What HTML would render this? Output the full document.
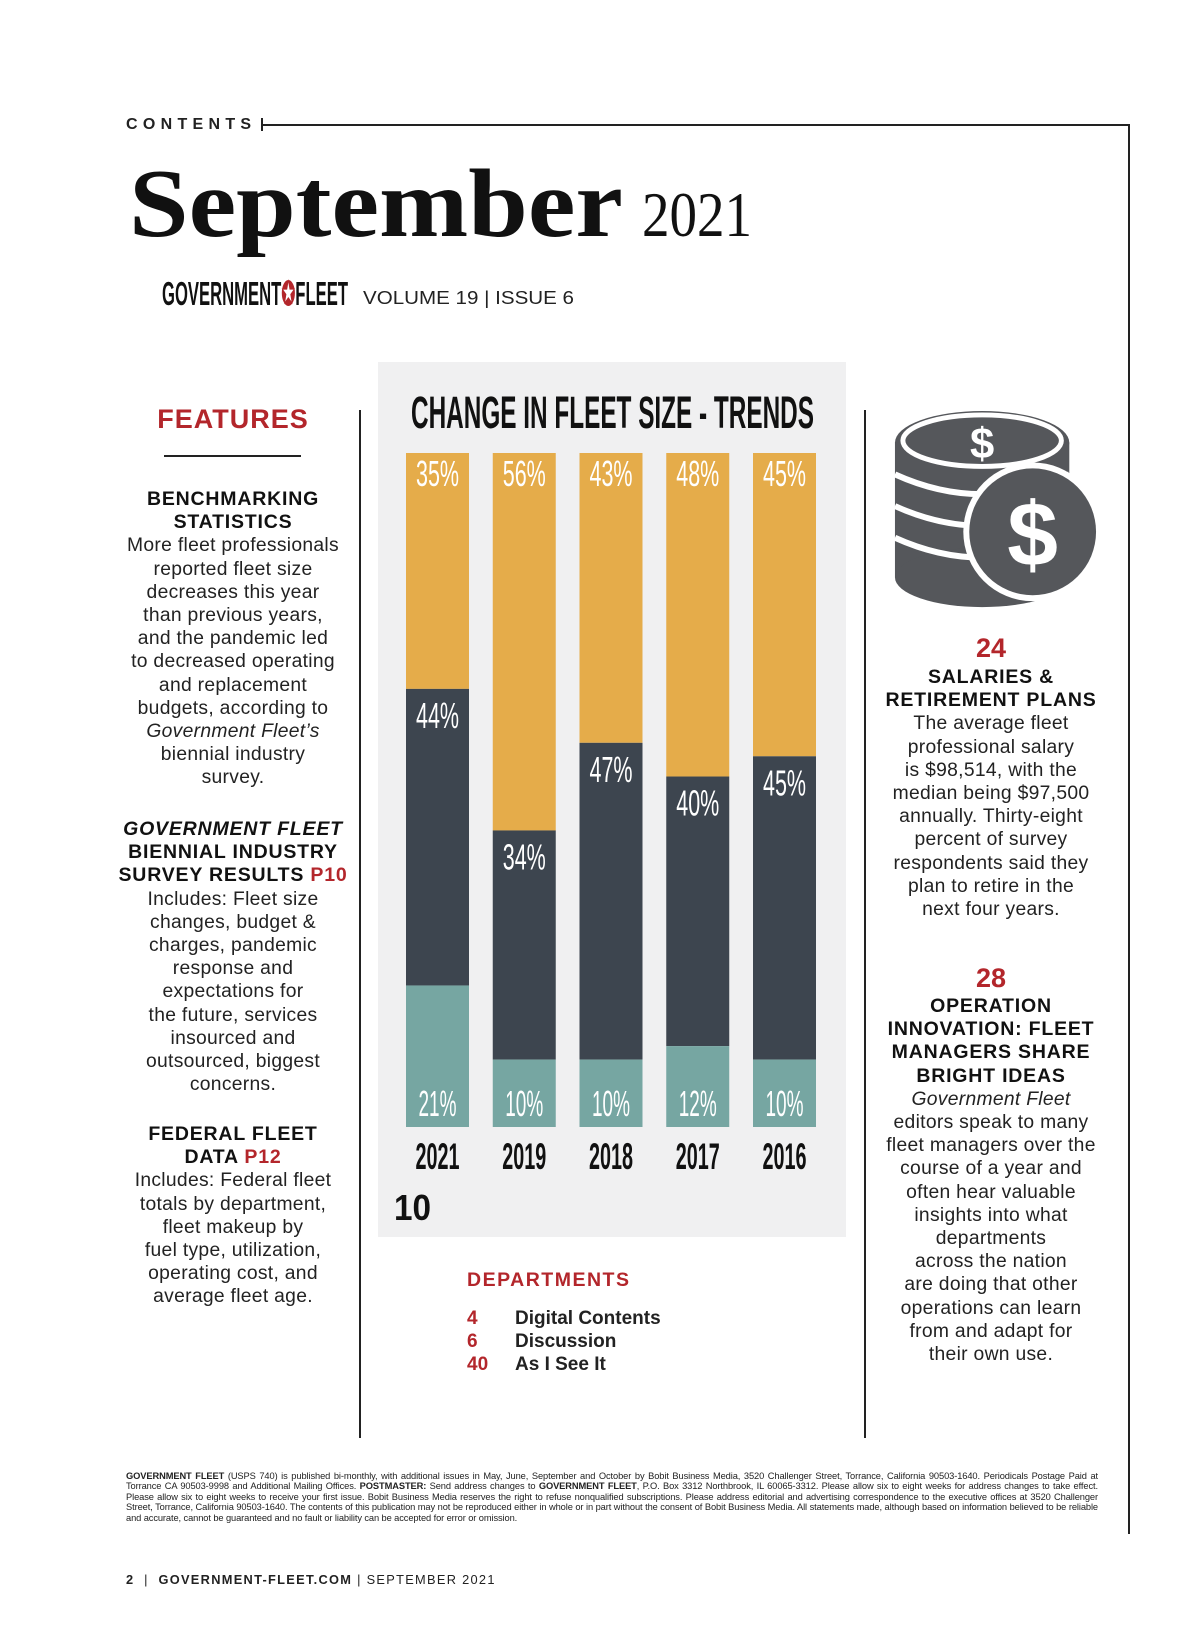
<!DOCTYPE html>
<html><head><meta charset="utf-8"><style>
body{margin:0;background:#fff;}
#page{position:relative;width:1200px;height:1638px;overflow:hidden;background:#fff;font-family:"Liberation Sans",sans-serif;color:#222;}
.abs{position:absolute;}
.col{position:absolute;text-align:center;font-size:19.3px;line-height:23.2px;color:#222;letter-spacing:0.3px;}
.col b{font-size:19.5px;letter-spacing:0.8px;color:#111;}
.red{color:#b3262b;}
</style></head><body>
<div id="page">
<div class="abs" style="left:126px;top:116px;font-size:16px;font-weight:bold;letter-spacing:5.3px;">CONTENTS</div>
<div class="abs" style="left:262px;top:124px;width:867px;height:1.5px;background:#222;"></div>
<div class="abs" style="left:261px;top:118px;width:1.5px;height:13px;background:#222;"></div>
<div class="abs" style="left:1128px;top:124px;width:1.5px;height:1410px;background:#222;"></div>

<svg class="abs" style="left:0;top:0;" width="1200" height="330">
<text x="129" y="236" font-family="Liberation Serif, serif" font-weight="bold" font-size="98" fill="#111" textLength="494" lengthAdjust="spacingAndGlyphs">September</text>
<text x="642" y="236" font-family="Liberation Serif, serif" font-size="64" fill="#111" textLength="110" lengthAdjust="spacingAndGlyphs">2021</text>
<text x="162" y="305" font-family="Liberation Sans Narrow, Liberation Sans, sans-serif" font-weight="bold" font-size="33" fill="#111" textLength="186" lengthAdjust="spacingAndGlyphs">GOVERNMENT<tspan fill="#b3262b">✪</tspan>FLEET</text>
<text x="363" y="304" font-family="Liberation Sans, sans-serif" font-size="18.5" fill="#222" textLength="211" lengthAdjust="spacingAndGlyphs">VOLUME 19 | ISSUE 6</text>
</svg>

<div class="abs red" style="left:133px;top:404px;width:200px;text-align:center;font-size:27px;font-weight:bold;letter-spacing:1px;">FEATURES</div>
<div class="abs" style="left:164px;top:455px;width:137px;height:1.5px;background:#222;"></div>

<div class="col" style="left:113px;width:240px;top:488px;">
<b>BENCHMARKING<br>STATISTICS</b><br>More fleet professionals<br>reported fleet size<br>decreases this year<br>than previous years,<br>and the pandemic led<br>to decreased operating<br>and replacement<br>budgets, according to<br><i>Government Fleet’s</i><br>biennial industry<br>survey.</div>
<div class="col" style="left:113px;width:240px;top:818px;">
<b><i>GOVERNMENT FLEET</i><br>BIENNIAL INDUSTRY<br>SURVEY RESULTS <span class="red">P10</span></b><br>Includes: Fleet size<br>changes, budget &amp;<br>charges, pandemic<br>response and<br>expectations for<br>the future, services<br>insourced and<br>outsourced, biggest<br>concerns.</div>
<div class="col" style="left:113px;width:240px;top:1123px;">
<b>FEDERAL FLEET<br>DATA <span class="red">P12</span></b><br>Includes: Federal fleet<br>totals by department,<br>fleet makeup by<br>fuel type, utilization,<br>operating cost, and<br>average fleet age.</div>

<div class="abs" style="left:359px;top:410px;width:1.5px;height:1028px;background:#222;"></div>
<div class="abs" style="left:864px;top:410px;width:1.5px;height:1028px;background:#222;"></div>

<svg class="abs" id="chart" style="left:378px;top:362px;" width="468" height="875" viewBox="378 362 468 875">
<rect x="378" y="362" width="468" height="875" fill="#f0f0f1"/>
<text x="411" y="428" font-family="Liberation Sans Narrow, Liberation Sans, sans-serif" font-weight="bold" font-size="45" fill="#111" textLength="403" lengthAdjust="spacingAndGlyphs">CHANGE IN FLEET SIZE -  TRENDS</text>
<text x="394" y="1220" font-family="Liberation Sans, sans-serif" font-weight="bold" font-size="36" fill="#111" textLength="37" lengthAdjust="spacingAndGlyphs">10</text>
</svg>

<svg class="abs" style="left:891px;top:407px;" width="210" height="210" viewBox="0 0 212 212">
<g fill="#55575b">
<ellipse cx="92" cy="36" rx="88" ry="32"/>
<rect x="4" y="36" width="176" height="136"/>
<ellipse cx="92" cy="172" rx="88" ry="30"/>
</g>
<g stroke="#fff" stroke-width="6" fill="none">
<path d="M4 68 Q92 108 180 68"/><path d="M4 100 Q92 140 180 100"/><path d="M4 132 Q92 172 180 132"/>
</g>
<ellipse cx="92" cy="34" rx="80" ry="26" fill="#55575b" stroke="#fff" stroke-width="5"/>
<text x="92" y="52" text-anchor="middle" font-family="Liberation Sans, sans-serif" font-weight="bold" font-size="44" fill="#fff">$</text>
<circle cx="143" cy="126" r="70" fill="#fff"/>
<circle cx="143" cy="126" r="64" fill="#55575b"/>
<text x="143" y="160" text-anchor="middle" font-family="Liberation Sans, sans-serif" font-weight="bold" font-size="92" fill="#fff">$</text>
</svg>

<div class="abs red" style="left:891px;width:200px;top:633px;text-align:center;font-size:27px;font-weight:bold;">24</div>
<div class="col" style="left:871px;width:240px;top:666px;">
<b>SALARIES &amp;<br>RETIREMENT PLANS</b><br>The average fleet<br>professional salary<br>is $98,514, with the<br>median being $97,500<br>annually. Thirty-eight<br>percent of survey<br>respondents said they<br>plan to retire in the<br>next four years.</div>
<div class="abs red" style="left:891px;width:200px;top:963px;text-align:center;font-size:27px;font-weight:bold;">28</div>
<div class="col" style="left:871px;width:240px;top:995px;">
<b>OPERATION<br>INNOVATION: FLEET<br>MANAGERS SHARE<br>BRIGHT IDEAS</b><br><i>Government Fleet</i><br>editors speak to many<br>fleet managers over the<br>course of a year and<br>often hear valuable<br>insights into what<br>departments<br>across the nation<br>are doing that other<br>operations can learn<br>from and adapt for<br>their own use.</div>

<div class="abs red" style="left:467px;top:1269px;font-size:19.5px;font-weight:bold;letter-spacing:1.5px;">DEPARTMENTS</div>
<div class="abs" style="left:467px;top:1307px;font-size:19px;line-height:23px;font-weight:bold;">
<div><span class="red" style="display:inline-block;width:48px;">4</span>Digital Contents</div>
<div><span class="red" style="display:inline-block;width:48px;">6</span>Discussion</div>
<div><span class="red" style="display:inline-block;width:48px;">40</span>As I See It</div>
</div>

<div class="abs" style="left:126px;top:1471px;width:972px;font-size:9.3px;line-height:10.4px;text-align:justify;color:#222;letter-spacing:-0.1px;"><b>GOVERNMENT FLEET</b> (USPS 740) is published bi-monthly, with additional issues in May, June, September and October by Bobit Business Media, 3520 Challenger Street, Torrance, California 90503-1640. Periodicals Postage Paid at Torrance CA 90503-9998 and Additional Mailing Offices. <b>POSTMASTER:</b> Send address changes to <b>GOVERNMENT FLEET</b>, P.O. Box 3312 Northbrook, IL 60065-3312. Please allow six to eight weeks for address changes to take effect. Please allow six to eight weeks to receive your first issue. Bobit Business Media reserves the right to refuse nonqualified subscriptions. Please address editorial and advertising correspondence to the executive offices at 3520 Challenger Street, Torrance, California 90503-1640. The contents of this publication may not be reproduced either in whole or in part without the consent of Bobit Business Media. All statements made, although based on information believed to be reliable and accurate, cannot be guaranteed and no fault or liability can be accepted for error or omission.</div>

<div class="abs" style="left:126px;top:1572px;font-size:12.8px;letter-spacing:1.3px;"><b>2</b> &nbsp;| &nbsp;<b>GOVERNMENT-FLEET.COM</b> | SEPTEMBER 2021</div>
</div>
<script>
const years = ["2021","2019","2018","2017","2016"];
const topShare = [35,56,43,48,45];
const midShare = [44,34,47,40,45];
const lowShare = [21,10,10,12,10];
(function(){
  const svg = document.getElementById('chart');
  const NS = 'http://www.w3.org/2000/svg';
  const x0 = 406, step = 86.75, bw = 63, yTop = 453, yBot = 1127;
  const xPos = i => x0 + i*step;
  const yScale = v => v/100*(yBot-yTop);
  function rect(x,y,w,h,fill,name){
    const r=document.createElementNS(NS,'rect');
    r.setAttribute('x',x);r.setAttribute('y',y);r.setAttribute('width',w);r.setAttribute('height',h);r.setAttribute('fill',fill);
    
    
    svg.appendChild(r);
  }
  function label(x,y,txt,size,fill,bold,len,name){
    const t=document.createElementNS(NS,'text');
    t.setAttribute('x',x);t.setAttribute('y',y);t.setAttribute('text-anchor','middle');
    t.setAttribute('font-family','Liberation Sans Narrow, Liberation Sans, sans-serif');
    t.setAttribute('font-size',size);t.setAttribute('fill',fill);
    t.setAttribute('textLength',len);t.setAttribute('lengthAdjust','spacingAndGlyphs');
    if(bold)t.setAttribute('font-weight','bold');
    t.textContent=txt;
    
    
    svg.appendChild(t);
  }
  years.forEach((yr,i)=>{
    const x=xPos(i), cx=x+bw/2;
    const total=topShare[i]+midShare[i]+lowShare[i];
    const h1=yScale(topShare[i]*100/total), h2=yScale(midShare[i]*100/total), h3=yScale(lowShare[i]*100/total);
    const y2=yTop+h1, y3=y2+h2;
    rect(x,yTop,bw,h1,'#e5ac4a','bar-top-'+yr);
    rect(x,y2,bw,h2,'#3d454f','bar-mid-'+yr);
    rect(x,y3,bw,h3,'#76a6a2','bar-low-'+yr);
    label(cx,yTop+33,topShare[i]+'%',36,'#fff',false,43,'value-top-'+yr);
    label(cx,y2+39,midShare[i]+'%',36,'#fff',false,43,'value-mid-'+yr);
    label(cx,yBot-11,lowShare[i]+'%',36,'#fff',false,38,'value-low-'+yr);
    label(cx,1169,yr,37,'#111',true,44,'year-label-'+yr);
  });
})();
</script>
</body></html>
